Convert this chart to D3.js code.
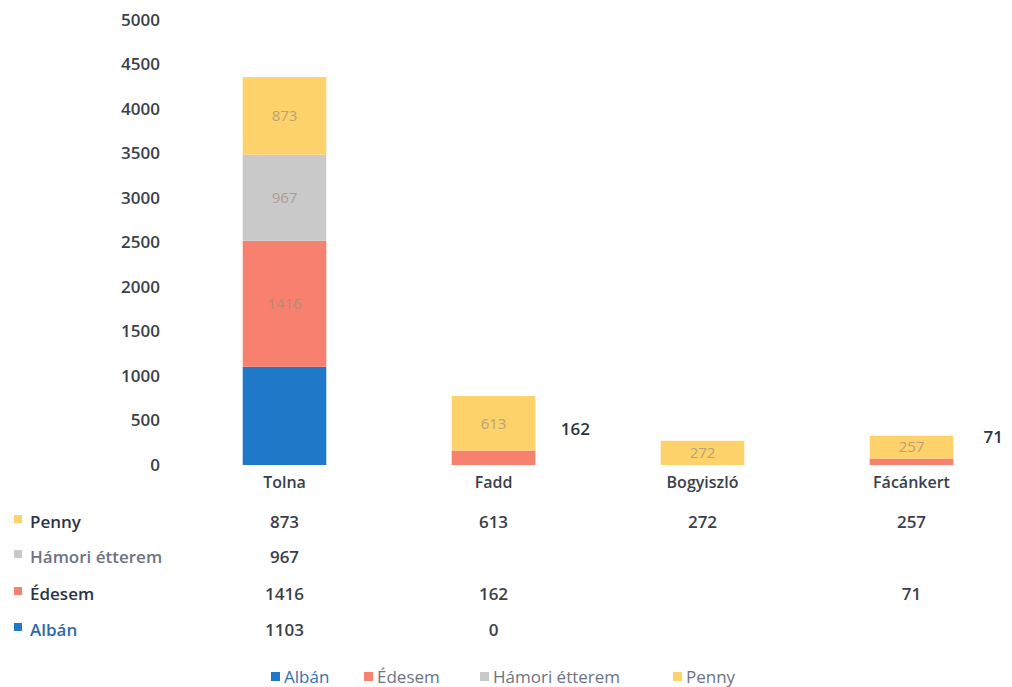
<!DOCTYPE html>
<meta charset="utf-8">
<style>
body { margin: 0; background: #fff; }
svg text { font-family: "Open Sans", sans-serif; fill: #3a3f4c; }
.axis path, .axis line { display: none; }
</style>
<body>
<script src="https://d3js.org/d3.v7.min.js"></script>
<script>

// data
var places = ["Tolna", "Fadd", "Bogyiszló", "Fácánkert"];
var series = ["Albán", "Édesem", "Hámori étterem", "Penny"];
var alban   = [1103, 0, null, null];
var edesem  = [1416, 162, null, 71];
var hamori  = [967, null, null, null];
var penny   = [873, 613, 272, 257];
var yTicks  = [0, 500, 1000, 1500, 2000, 2500, 3000, 3500, 4000, 4500, 5000];

var colors = ["#1f78c8", "#f7806f", "#c9c9c9", "#fdd26a"];
var values = [alban, edesem, hamori, penny];

var width = 1012, height = 687;
var svg = d3.select("body").append("svg")
    .attr("width", width)
    .attr("height", height);

var x = d3.scaleBand().domain(places).range([180, 1016]).paddingInner(0.6).paddingOuter(0.3);
var y = d3.scaleLinear().domain([0, 5000]).range([465, 20]);

var rows = places.map(function(p, i) {
  var r = {place: p};
  series.forEach(function(s, j) { r[s] = values[j][i] || 0; });
  return r;
});
var stacked = d3.stack().keys(series)(rows);

// y axis labels
svg.append("g")
    .attr("class", "axis")
    .attr("transform", "translate(166,0)")
    .call(d3.axisLeft(y).tickValues(yTicks).tickFormat(d3.format("d")).tickSize(0).tickPadding(6))
    .selectAll("text")
    .style("font-size", "17px")
    .style("font-weight", "600");

// bars
stacked.forEach(function(layer, j) {
  svg.append("g").attr("fill", colors[j])
    .selectAll("rect")
    .data(layer)
    .join("rect")
      .attr("x", function(d) { return x(d.data.place); })
      .attr("y", function(d) { return y(d[1]); })
      .attr("width", x.bandwidth())
      .attr("height", function(d) { return y(d[0]) - y(d[1]); });
});

// labels in bars (faint) and small ones beside
stacked.forEach(function(layer, j) {
  if (j == 0) return;
  layer.forEach(function(d) {
    var v = d[1] - d[0];
    if (!v) return;
    var cx = x(d.data.place) + x.bandwidth() / 2;
    var h = y(d[0]) - y(d[1]);
    if (h > 18) {
      svg.append("text")
          .attr("x", cx).attr("y", (y(d[0]) + y(d[1])) / 2)
          .attr("dy", "0.35em")
          .attr("text-anchor", "middle")
          .style("font-size", "15px")
          .style("fill", "#9c8f80")
          .style("opacity", 0.7)
          .text(v);
    } else {
      svg.append("text")
          .attr("x", x(d.data.place) + x.bandwidth() + 40)
          .attr("y", y(d[1]) - 16)
          .attr("text-anchor", "middle")
          .style("font-size", "17px")
          .style("font-weight", "600")
          .style("fill", "#2b3444")
          .text(v);
    }
  });
});

// category labels
svg.append("g").selectAll("text")
    .data(places)
    .join("text")
      .attr("x", function(d) { return x(d) + x.bandwidth() / 2; })
      .attr("y", 488)
      .attr("text-anchor", "middle")
      .style("font-size", "16px")
      .style("font-weight", "600")
      .text(function(d) { return d; });

// data table
var rowY = {"Penny": 522, "Hámori étterem": 557, "Édesem": 594, "Albán": 630};
series.forEach(function(s, j) {
  var ty = rowY[s];
  svg.append("rect")
      .attr("x", 14).attr("y", ty - 7)
      .attr("width", 8).attr("height", 8)
      .attr("fill", colors[j]);
  svg.append("text")
      .attr("x", 30).attr("y", ty)
      .attr("dy", "0.35em")
      .style("font-size", "17px")
      .style("font-weight", "600")
      .style("fill", j == 2 ? "#6c7382" : (j == 0 ? "#2f6aa8" : "#2b3444"))
      .text(s);
  values[j].forEach(function(v, i) {
    if (v === null) return;
    svg.append("text")
        .attr("x", x(places[i]) + x.bandwidth() / 2)
        .attr("y", ty)
        .attr("dy", "0.35em")
        .attr("text-anchor", "middle")
        .style("font-size", "17px")
        .style("font-weight", "600")
        .text(v);
  });
});

// legend
var legX = [271, 364, 480, 673];
series.forEach(function(s, j) {
  svg.append("rect")
      .attr("x", legX[j]).attr("y", 672)
      .attr("width", 9).attr("height", 9)
      .attr("fill", colors[j]);
  svg.append("text")
      .attr("x", legX[j] + 13).attr("y", 677)
      .attr("dy", "0.35em")
      .style("font-size", "17px")
      .style("fill", j == 0 ? "#3470b0" : "#6c7382")
      .text(s);
});

</script>
</body>
